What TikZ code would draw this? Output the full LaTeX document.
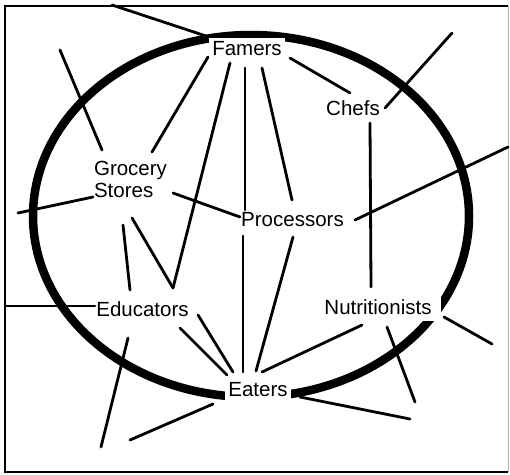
\documentclass[tikz,border=0pt]{standalone}
\usepackage{fontspec}
\setmainfont{Liberation Sans}
\usetikzlibrary{calc}

\begin{document}
\begin{tikzpicture}[x=1pt,y=-1pt,
  lbl/.style={fill=white,inner xsep=3pt,inner ysep=3pt,font=\fontsize{20.5}{22}\selectfont},
  link/.style={line width=2.8pt,line cap=round},
  rim/.style={line width=8.5pt}]
\useasboundingbox (0,0) rectangle (510,474);
\draw[line width=1.5pt] (508,6) -- (5,6) -- (5,472) -- (508,472);
\draw[gray!60,line width=1pt] (508,6) -- (508,472);
\draw[rim] (251,216) ellipse [x radius=218pt, y radius=181pt];
\node[lbl] (Fa) at (247,48.5) {Famers};
\node[lbl] (Ch) at (353,108.5) {Chefs};
\node[lbl,align=left] (Gr) at (130.5,179) {Grocery\\Stores};
\node[lbl] (Pr) at (292.5,220) {Processors};
\node[lbl] (Ed) at (142.5,309.5) {Educators};
\node[lbl,inner xsep=9pt,inner ysep=6pt] (Nu) at (378,307) {Nutritionists};
\node[lbl,inner ysep=6pt] (Ea) at (258,390) {Eaters};
\coordinate (FaOut) at (112,5);
\coordinate (GrUp) at (60,50);
\coordinate (GrLeft) at (18,213);
\coordinate (ChOut) at (452,33);
\coordinate (PrOut) at (508,147);
\coordinate (EdLeft) at (6,306);
\coordinate (EdDown) at (101,447);
\coordinate (NuDown) at (415,402);
\coordinate (NuOut) at (492,344);
\coordinate (EaLeft) at (130,440);
\coordinate (EaRight) at (410,419);
\draw[link] ($(Fa)+(-38,-11.5)$) -- (FaOut);
\draw[link] ($(Fa)+(-39,8.5)$) -- ($(Gr)+(21.5,-27)$);
\draw[link] ($(Fa)+(-17,14.5)$) -- ($(Ed)+(30.5,-21.5)$);
\draw[link] ($(Fa)+(-2,19.5)$) -- ($(Pr)+(-47.5,-10)$);
\draw[link] ($(Pr)+(-49.5,16)$) -- ($(Ea)+(-15,-18)$);
\draw[link] ($(Fa)+(15,19.5)$) -- ($(Pr)+(-0.5,-20)$);
\draw[link] ($(Fa)+(43,9.5)$) -- ($(Ch)+(-3,-15.5)$);
\draw[link] ($(Ch)+(17,14.5)$) -- ($(Nu)+(-7,-20)$);
\draw[link] ($(Ch)+(32,-0.5)$) -- (ChOut);
\draw[link] ($(Gr)+(-28.5,-29)$) -- (GrUp);
\draw[link] ($(Gr)+(-37.5,18)$) -- (GrLeft);
\draw[link] ($(Gr)+(42.5,14)$) -- ($(Pr)+(-52.5,-3)$);
\draw[link] ($(Gr)+(-7.5,46)$) -- ($(Ed)+(-12.5,-19.5)$);
\draw[link] ($(Gr)+(1.5,39)$) -- ($(Ed)+(30.5,-21.5)$);
\draw[link] ($(Pr)+(0.5,17)$) -- ($(Ea)+(-2,-19)$);
\draw[link] ($(Pr)+(62.5,0)$) -- (PrOut);
\draw[link] ($(Ed)+(-47.5,-3.5)$) -- (EdLeft);
\draw[link] ($(Ed)+(-14.5,28.5)$) -- (EdDown);
\draw[link] ($(Ed)+(37.5,18.5)$) -- ($(Ea)+(-31,-15)$);
\draw[link] ($(Ed)+(55.5,5.5)$) -- ($(Ea)+(-25,-18)$);
\draw[link] ($(Nu)+(-16,18)$) -- ($(Ea)+(4,-18)$);
\draw[link] ($(Nu)+(9,20)$) -- (NuDown);
\draw[link] ($(Nu)+(66,10)$) -- (NuOut);
\draw[link] ($(Ea)+(-45,14)$) -- (EaLeft);
\draw[link] ($(Ea)+(42,7)$) -- (EaRight);
\end{tikzpicture}
\end{document}
